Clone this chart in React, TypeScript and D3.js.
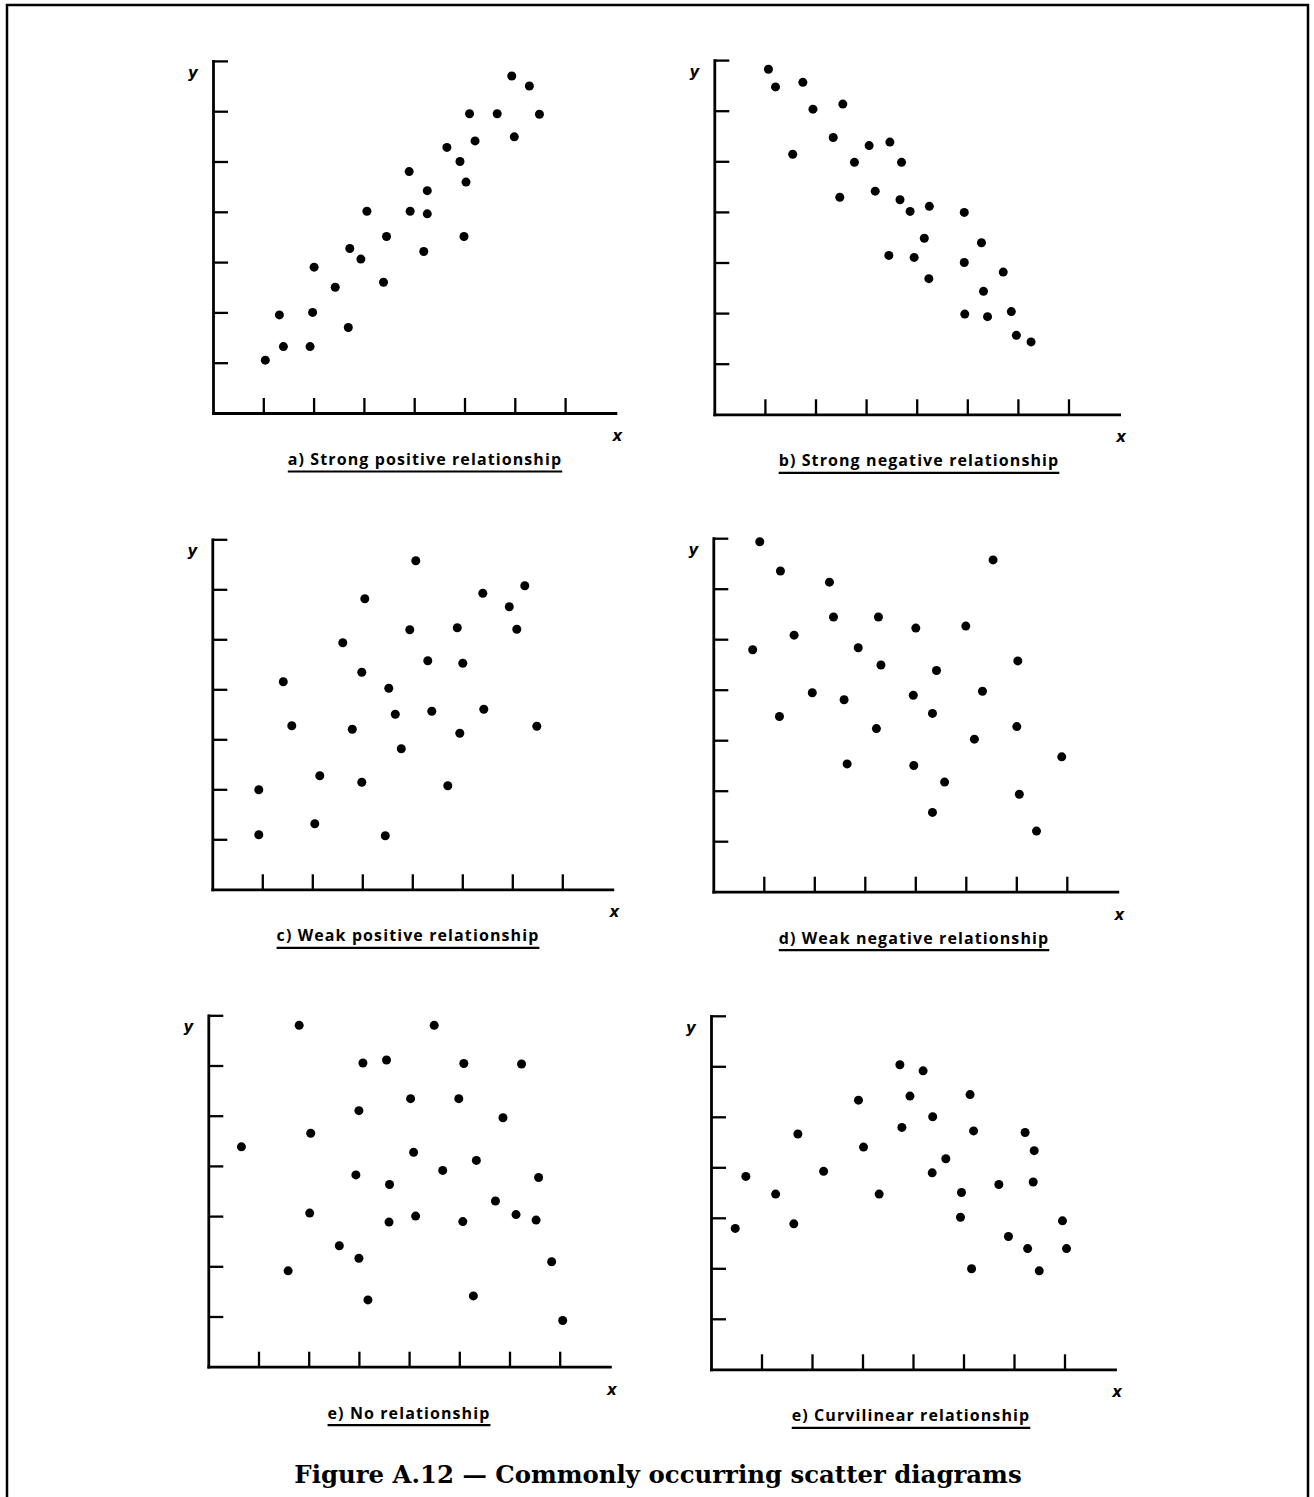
import { useEffect, useRef } from 'react';
import * as d3 from 'd3';

// point positions, in tick units (x 0..8, y 0..7)
const strongPositive: [number, number][] = [
  [1.04, 1.05], [1.32, 1.95], [1.40, 1.32], [2.01, 2.90], [1.98, 2.00], [1.93, 1.32],
  [2.43, 2.50], [2.69, 1.70], [2.72, 3.27], [2.94, 3.06], [3.06, 4.01], [3.45, 3.51],
  [3.39, 2.60], [3.90, 4.80], [3.92, 4.01], [4.26, 4.42], [4.26, 3.96], [4.19, 3.21],
  [4.65, 5.28], [4.91, 5.00], [5.03, 4.59], [4.99, 3.51], [5.10, 5.95], [5.21, 5.41],
  [5.65, 5.95], [5.94, 6.70], [5.99, 5.49], [6.29, 6.50], [6.49, 5.94],
];

const strongNegative: [number, number][] = [
  [1.07, 6.82], [1.21, 6.47], [1.75, 6.56], [1.95, 6.03], [2.54, 6.13], [1.55, 5.14],
  [2.35, 5.47], [2.77, 4.98], [3.06, 5.31], [3.47, 5.38], [3.70, 4.98], [2.48, 4.29],
  [3.18, 4.41], [3.67, 4.24], [3.87, 4.01], [4.25, 4.11], [4.94, 3.99], [4.15, 3.48],
  [3.45, 3.14], [3.95, 3.10], [4.24, 2.68], [4.94, 3.00], [5.28, 3.39], [5.71, 2.81],
  [5.32, 2.43], [4.95, 1.98], [5.40, 1.93], [5.87, 2.03], [5.97, 1.56], [6.26, 1.43],
];

const weakPositive: [number, number][] = [
  [0.93, 1.99], [0.93, 1.09], [1.42, 4.15], [1.59, 3.27], [2.15, 2.27], [2.05, 1.31],
  [2.61, 4.93], [2.80, 3.20], [3.05, 5.81], [2.99, 4.34], [2.99, 2.14], [3.46, 1.07],
  [3.53, 4.02], [3.66, 3.50], [3.78, 2.81], [4.07, 6.57], [3.95, 5.19], [4.31, 4.57],
  [4.39, 3.56], [4.90, 5.23], [5.01, 4.52], [4.95, 3.12], [4.71, 2.07], [5.41, 5.92],
  [5.43, 3.60], [5.94, 5.65], [6.25, 6.07], [6.09, 5.20], [6.49, 3.26],
];

const weakNegative: [number, number][] = [
  [0.92, 6.93], [0.78, 4.79], [1.33, 6.35], [1.60, 5.08], [1.31, 3.47], [1.96, 3.94],
  [2.30, 6.13], [2.38, 5.44], [2.87, 4.83], [2.59, 3.80], [2.65, 2.53], [3.27, 5.44],
  [3.32, 4.49], [3.23, 3.23], [4.01, 5.22], [3.96, 3.89], [3.97, 2.50], [4.42, 4.38],
  [4.34, 3.53], [4.58, 2.17], [4.34, 1.57], [5.00, 5.26], [5.33, 3.97], [5.17, 3.02],
  [5.54, 6.57], [6.03, 4.57], [6.01, 3.27], [6.06, 1.93], [6.40, 1.20], [6.90, 2.67],
];

const noRelationship: [number, number][] = [
  [0.66, 4.38], [1.81, 6.80], [2.04, 4.65], [2.02, 3.06], [1.59, 1.91], [2.61, 2.41],
  [3.00, 2.16], [3.18, 1.33], [3.08, 6.05], [3.00, 5.10], [2.94, 3.82], [3.55, 6.11],
  [3.61, 3.63], [3.60, 2.88], [4.03, 5.34], [4.09, 4.27], [4.13, 3.00], [4.50, 6.80],
  [4.67, 3.91], [5.09, 6.04], [4.99, 5.34], [5.34, 4.11], [5.07, 2.89], [5.28, 1.41],
  [5.87, 4.96], [5.72, 3.30], [6.24, 6.03], [6.13, 3.03], [6.58, 3.77], [6.53, 2.92],
  [6.84, 2.09], [7.06, 0.92],
];

const curvilinear: [number, number][] = [
  [0.48, 2.79], [0.69, 3.82], [1.28, 3.47], [1.64, 2.88], [1.72, 4.66], [2.23, 3.92],
  [2.92, 5.33], [3.02, 4.40], [3.33, 3.47], [3.74, 6.03], [3.94, 5.41], [3.78, 4.79],
  [4.20, 5.91], [4.39, 5.00], [4.38, 3.89], [4.65, 4.17], [5.13, 5.44], [5.20, 4.72],
  [4.96, 3.50], [4.94, 3.01], [5.16, 1.99], [5.70, 3.66], [5.89, 2.63], [6.22, 4.69],
  [6.40, 4.33], [6.38, 3.71], [6.27, 2.39], [6.50, 1.95], [6.96, 2.94], [7.04, 2.39],
];

const captions = [
  'a) Strong positive relationship',
  'b) Strong negative relationship',
  'c) Weak positive relationship',
  'd) Weak negative relationship',
  'e) No relationship',
  'e) Curvilinear relationship',
];

const datasets = [strongPositive, strongNegative, weakPositive, weakNegative, noRelationship, curvilinear];

const xTicks = [1, 2, 3, 4, 5, 6, 7];
const yTicks = [1, 2, 3, 4, 5, 6, 7];

const figureTitle = 'Figure A.12 \u2014 Commonly occurring scatter diagrams';

// where each little plot sits on the page: origin of the axes, pixels per tick, caption centre
const layout = [
  { ox: 213, oy: 413, unit: 50.3, capX: 425 },
  { ox: 714.3, oy: 414.3, unit: 50.6, capX: 919 },
  { ox: 212.3, oy: 889.3, unit: 50, capX: 408 },
  { ox: 713.3, oy: 891.7, unit: 50.5, capX: 914 },
  { ox: 208.3, oy: 1366.7, unit: 50.2, capX: 409 },
  { ox: 711, oy: 1369.3, unit: 50.5, capX: 911 },
];

const W = 1314;
const H = 1497;

export default function App() {
  const svgRef = useRef<SVGSVGElement>(null);

  useEffect(() => {
    const svg = d3.select(svgRef.current);
    svg.selectAll('*').remove();

    svg.append('rect').attr('width', W).attr('height', H).attr('fill', '#fff');

    // page frame, open at the bottom
    svg.append('path')
      .attr('d', `M7,${H} V5 H1308 V${H}`)
      .attr('fill', 'none')
      .attr('stroke', '#000')
      .attr('stroke-width', 2.5);

    datasets.forEach((points, i) => {
      const { ox, oy, unit, capX } = layout[i];
      const x = d3.scaleLinear().domain([0, 8]).range([ox, ox + 8 * unit]);
      const y = d3.scaleLinear().domain([0, 7]).range([oy, oy - 7 * unit]);
      const g = svg.append('g');

      const yAxis = g.append('g')
        .attr('transform', `translate(${ox},0)`)
        .call(d3.axisLeft(y).tickValues(yTicks).tickSizeInner(-15).tickSizeOuter(0).tickFormat(() => ''));
      const xAxis = g.append('g')
        .attr('transform', `translate(0,${oy})`)
        .call(d3.axisBottom(x).tickValues(xTicks).tickSizeInner(-15).tickSizeOuter(0).tickFormat(() => ''));

      [xAxis, yAxis].forEach(ax => {
        ax.select('.domain').attr('stroke', '#000').attr('stroke-width', 2.8).attr('stroke-linecap', 'square');
        ax.selectAll('.tick line').attr('stroke', '#000').attr('stroke-width', 2.3);
      });

      g.append('text')
        .attr('x', ox - 20)
        .attr('y', y(7) + 17)
        .attr('text-anchor', 'middle')
        .attr('font-family', 'DejaVu Sans')
        .attr('font-style', 'italic')
        .attr('font-weight', 'bold')
        .attr('font-size', 15)
        .text('y');

      g.append('text')
        .attr('x', x(8) + 2)
        .attr('y', oy + 28)
        .attr('text-anchor', 'middle')
        .attr('font-family', 'DejaVu Sans')
        .attr('font-style', 'italic')
        .attr('font-weight', 'bold')
        .attr('font-size', 15)
        .text('x');

      g.selectAll('circle')
        .data(points)
        .join('circle')
        .attr('cx', d => x(d[0]))
        .attr('cy', d => y(d[1]))
        .attr('r', 4.5)
        .attr('fill', '#000');

      const cap = g.append('text')
        .attr('x', capX)
        .attr('y', oy + 52)
        .attr('text-anchor', 'middle')
        .attr('font-family', 'Open Sans, DejaVu Sans, sans-serif')
        .attr('font-weight', 'bold')
        .attr('font-size', 16)
        .attr('letter-spacing', 1.1)
        .text(captions[i]);

      // underline as wide as the caption
      const box = (cap.node() as SVGTextElement).getBBox();
      g.append('line')
        .attr('x1', box.x)
        .attr('x2', box.x + box.width)
        .attr('y1', oy + 58.5)
        .attr('y2', oy + 58.5)
        .attr('stroke', '#000')
        .attr('stroke-width', 2.2);
    });

    svg.append('text')
      .attr('x', 658)
      .attr('y', 1483)
      .attr('text-anchor', 'middle')
      .attr('font-family', 'DejaVu Serif, serif')
      .attr('font-weight', 'bold')
      .attr('font-size', 24.4)
      .text(figureTitle);
  }, []);

  return (
    <svg
      ref={svgRef}
      width={W}
      height={H}
      style={{ position: 'absolute', left: 0, top: 0, display: 'block' }}
    />
  );
}
